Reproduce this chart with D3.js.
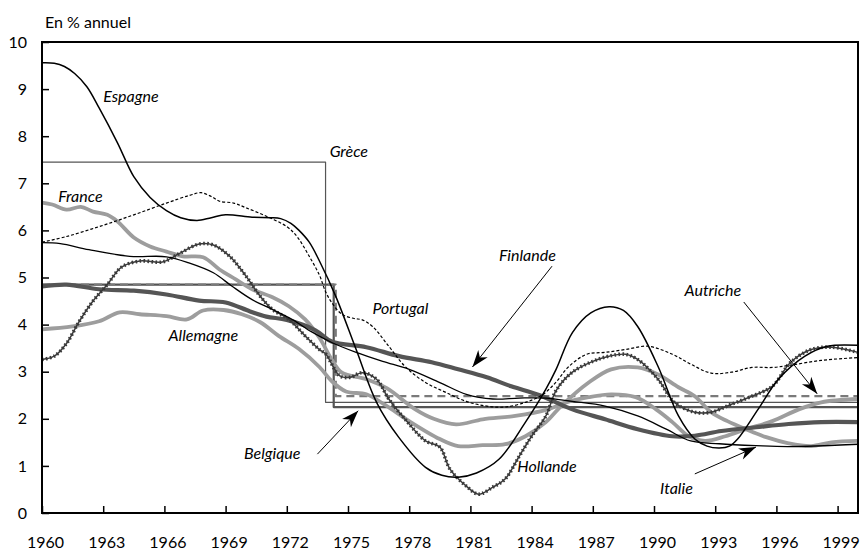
<!DOCTYPE html>
<html>
<head>
<meta charset="utf-8">
<script src="https://cdn.jsdelivr.net/npm/d3@7"></script>
<style>
  body { margin: 0; background: #fff; }
  svg { font-family: Lato, "Open Sans", sans-serif; }
</style>
</head>
<body>
<div id="chart"></div>
<script>
// series: [year, % annuel]
var espagne = [[1960,9.56],[1960.6,9.55],[1961.1,9.48],[1961.6,9.33],[1962.2,9.05],[1962.8,8.6],[1963.7,7.86],[1964.5,7.14],[1965.3,6.7],[1966.1,6.42],[1966.8,6.27],[1967.6,6.21],[1968.3,6.27],[1969,6.33],[1970.3,6.28],[1971.2,6.27],[1971.7,6.25],[1972.2,6.15],[1972.6,6.0],[1973.1,5.75],[1973.6,5.35],[1974.4,4.6],[1975.4,3.47],[1976.4,2.35],[1977.5,1.6],[1978.8,0.97],[1979.6,0.8],[1980.4,0.76],[1981.3,0.85],[1982.4,1.14],[1983.7,1.93],[1984.7,2.63],[1985.2,3.05],[1986,3.83],[1986.9,4.25],[1987.8,4.38],[1988.5,4.3],[1989.2,3.96],[1990.2,3.11],[1991.2,2.06],[1992,1.57],[1992.6,1.42],[1993.2,1.38],[1993.7,1.42],[1994.1,1.57],[1995.1,2.2],[1996.1,2.84],[1997.4,3.33],[1998.5,3.54],[2000,3.56]];
var italie = [[1960,5.74],[1960.9,5.72],[1962.3,5.59],[1964.3,5.45],[1966.1,5.44],[1967.2,5.31],[1968.4,5.1],[1969.3,4.82],[1970.3,4.53],[1971.3,4.32],[1972.3,4.1],[1973.2,3.85],[1974.2,3.62],[1975.4,3.41],[1976.7,3.22],[1978,3.05],[1979.5,2.77],[1980.8,2.52],[1982.1,2.42],[1983.4,2.44],[1984.7,2.44],[1986,2.37],[1987.6,2.27],[1989.2,2.06],[1990.6,1.78],[1991.8,1.53],[1993.2,1.47],[1995,1.43],[1996.6,1.41],[2000,1.46]];
var portugal = [[1960,5.75],[1961.2,5.87],[1962.8,6.08],[1964.5,6.33],[1966.1,6.58],[1967.2,6.74],[1967.8,6.8],[1968.3,6.72],[1968.7,6.62],[1969.4,6.58],[1970,6.48],[1971,6.3],[1972,6.08],[1972.5,5.87],[1973.1,5.45],[1973.6,5.05],[1973.9,4.7],[1974.2,4.47],[1974.7,4.22],[1975.3,4.13],[1975.7,4.1],[1976.2,3.96],[1977,3.54],[1977.8,3.11],[1978.8,2.77],[1979.8,2.56],[1980.8,2.37],[1981.8,2.27],[1982.7,2.25],[1983.7,2.35],[1984.5,2.5],[1985.2,2.78],[1985.8,3.1],[1986.7,3.37],[1987.6,3.41],[1988.6,3.47],[1989.7,3.54],[1990.9,3.37],[1991.8,3.16],[1992.8,2.97],[1993.8,2.99],[1994.8,3.09],[1995.8,3.09],[1996.7,3.14],[1998.2,3.24],[2000,3.3]];
var hollande = [[1960,3.26],[1960.6,3.33],[1961.2,3.6],[1961.8,4.05],[1962.5,4.5],[1963.2,4.85],[1963.9,5.22],[1964.8,5.35],[1965.9,5.33],[1966.7,5.5],[1967.7,5.71],[1968.4,5.69],[1969.2,5.45],[1970,5.03],[1970.7,4.6],[1971.3,4.32],[1972.1,4.11],[1972.9,3.76],[1973.6,3.47],[1973.9,3.38],[1974.6,2.91],[1975.1,2.88],[1975.7,2.98],[1976.4,2.84],[1977,2.42],[1977.8,1.99],[1978.8,1.53],[1979.5,1.4],[1980,0.93],[1980.8,0.57],[1981.4,0.4],[1982.1,0.55],[1982.7,0.72],[1983.4,1.21],[1984,1.63],[1984.7,2.06],[1985.2,2.6],[1986,2.99],[1987,3.22],[1987.8,3.33],[1988.6,3.37],[1989.2,3.26],[1990.2,2.84],[1991,2.35],[1992,2.14],[1992.8,2.14],[1993.8,2.31],[1994.8,2.48],[1995.8,2.69],[1996.7,3.2],[1997.7,3.47],[1998.7,3.52],[2000,3.41]];
var france = [[1960,6.59],[1960.5,6.55],[1961.2,6.44],[1961.9,6.5],[1962.5,6.4],[1963.2,6.33],[1963.7,6.19],[1964.5,5.85],[1965.3,5.66],[1966.1,5.55],[1966.9,5.45],[1967.9,5.43],[1968.7,5.17],[1969.5,4.96],[1970.3,4.75],[1971.3,4.58],[1972.1,4.39],[1972.9,4.11],[1973.6,3.72],[1974.2,3.26],[1974.7,2.98],[1975.9,2.84],[1976.9,2.65],[1978.3,2.2],[1979.2,2.0],[1980.3,1.88],[1981.6,1.99],[1983.2,2.06],[1984.8,2.2],[1985.7,2.35],[1986.8,2.46],[1987.9,2.52],[1989.1,2.46],[1990.1,2.2],[1990.9,1.93],[1991.7,1.63],[1992.5,1.53],[1993.5,1.63],[1994.5,1.78],[1995.8,1.95],[1997.1,2.2],[1998.2,2.35],[2000,2.42]];
var allemagne = [[1960,3.9],[1961.5,3.96],[1962.8,4.07],[1963.8,4.26],[1964.8,4.22],[1966.1,4.18],[1967.1,4.11],[1967.9,4.3],[1968.9,4.31],[1969.8,4.22],[1970.7,4.05],[1971.6,3.76],[1972.6,3.48],[1973.6,3.1],[1974.2,2.8],[1974.9,2.58],[1975.9,2.52],[1976.8,2.3],[1978,1.95],[1979.5,1.57],[1980.4,1.42],[1981.6,1.44],[1982.7,1.46],[1983.7,1.63],[1984.7,1.93],[1985.4,2.25],[1986.8,2.77],[1987.9,3.05],[1989.2,3.09],[1990.2,2.94],[1991.2,2.67],[1992,2.48],[1992.8,2.14],[1993.6,1.95],[1994.5,1.78],[1995.5,1.61],[1996.6,1.48],[1997.7,1.42],[1998.7,1.5],[2000,1.53]];
var finlande = [[1960,4.81],[1961.2,4.85],[1962.8,4.75],[1964.5,4.72],[1966.1,4.64],[1967.7,4.51],[1969,4.47],[1970.2,4.28],[1971,4.17],[1972,4.1],[1973.4,3.88],[1974.2,3.64],[1975.9,3.52],[1977.5,3.33],[1979.1,3.2],[1980.4,3.05],[1981.8,2.88],[1983,2.69],[1984.4,2.5],[1986,2.2],[1987.6,1.99],[1989.2,1.78],[1990.9,1.63],[1992,1.64],[1993.3,1.74],[1995,1.82],[1996.6,1.89],[1998.2,1.93],[2000,1.93]];
var grece = [[1960,7.45],[1973.9,7.45],[1973.9,2.35],[2000,2.35]];
var belgique = [[1960,4.85],[1974.3,4.85],[1974.3,2.25],[2000,2.25]];
var autriche = [[1960,4.85],[1974.4,4.85],[1974.4,2.48],[2000,2.48]];

var xTicks = d3.range(1960, 2000, 3);
var yTicks = d3.range(0, 11, 1);

// labels: [text, year, value]; arrows: [from year, from value, to year, to value]
var labels = [
  ["Espagne", 1963.0, 8.72],
  ["Grèce", 1974.1, 7.56],
  ["France", 1960.8, 6.6],
  ["Portugal", 1976.2, 4.22],
  ["Finlande", 1982.4, 5.35],
  ["Autriche", 1991.5, 4.6],
  ["Allemagne", 1966.2, 3.65],
  ["Belgique", 1969.9, 1.15],
  ["Hollande", 1983.3, 0.87],
  ["Italie", 1990.3, 0.4]
];
var arrows = [
  [1985.0, 5.24, 1981.1, 3.1],
  [1994.4, 4.48, 1998.0, 2.53],
  [1973.5, 1.25, 1975.5, 2.17],
  [1992.0, 0.83, 1995.0, 1.4]
];

var W = 862, H = 551;
var margin = {top: 42, right: 4, bottom: 38, left: 42};

var svg = d3.select('#chart').append('svg')
    .attr('width', W)
    .attr('height', H);

var x = d3.scaleLinear().domain([1960, 2000]).range([margin.left, W - margin.right]);
var y = d3.scaleLinear().domain([0, 10]).range([H - margin.bottom, margin.top]);

svg.append('defs').append('marker')
    .attr('id', 'head')
    .attr('markerUnits', 'userSpaceOnUse')
    .attr('viewBox', '-18 -7 20 14')
    .attr('refX', 0).attr('refY', 0)
    .attr('markerWidth', 20).attr('markerHeight', 14)
    .attr('orient', 'auto')
    .append('path')
    .attr('d', 'M0,0 L-17,-6 L-12,0 L-17,6 Z')
    .attr('fill', '#000');

var line = d3.line()
    .curve(d3.curveCatmullRom.alpha(0.5))
    .x(function(d){ return x(d[0]); })
    .y(function(d){ return y(d[1]); });
var stepLine = d3.line()
    .x(function(d){ return x(d[0]); })
    .y(function(d){ return y(d[1]); });

var plot = svg.append('g');

function draw(data, gen, stroke, width, dash){
    return plot.append('path')
        .datum(data)
        .attr('d', gen)
        .attr('fill', 'none')
        .attr('stroke', stroke)
        .attr('stroke-width', width)
        .attr('stroke-dasharray', dash || null)
        .attr('stroke-linejoin', 'round');
}

// step series
draw(grece, stepLine, '#555', 1.2);
draw(belgique, stepLine, '#555', 2.2);
draw(autriche, stepLine, '#7a7a7a', 2.2, '8,5');

// smooth series
draw(allemagne, line, '#9d9d9d', 3.8);
draw(france, line, '#9d9d9d', 3.8);
draw(finlande, line, '#555', 4.2);
draw(hollande, line, '#3a3a3a', 1.5);
draw(hollande, line, '#3a3a3a', 3.6, '1.6,2.4');
draw(italie, line, '#000', 1.3);
draw(portugal, line, '#000', 1.2, '3,2');
draw(espagne, line, '#000', 1.5);

// axes
var xAxis = svg.append('g')
    .attr('transform', 'translate(0,' + y(0) + ')')
    .call(d3.axisBottom(x).tickValues(xTicks).tickFormat(d3.format('d')).tickSize(-7).tickPadding(24));
var yAxis = svg.append('g')
    .attr('transform', 'translate(' + x(1960) + ',0)')
    .call(d3.axisLeft(y).tickValues(yTicks).tickSize(-7).tickPadding(15));

[xAxis, yAxis].forEach(function(a){
    a.select('.domain').remove();
    a.selectAll('line').attr('stroke', '#000').attr('stroke-width', 1.5);
    a.selectAll('text').attr('font-size', 16).attr('fill', '#000')
        .attr('font-family', 'Lato, "Open Sans", sans-serif');
});
xAxis.selectAll('text').attr('dx', 3);

// frame
svg.append('rect')
    .attr('x', x(1960)).attr('y', y(10))
    .attr('width', x(2000) - x(1960)).attr('height', y(0) - y(10))
    .attr('fill', 'none')
    .attr('stroke', '#000')
    .attr('stroke-width', 2);

svg.append('text')
    .attr('x', 45).attr('y', 28)
    .attr('font-size', 16)
    .text('En % annuel');

// annotations
svg.selectAll('.lab')
    .data(labels)
    .enter().append('text')
    .attr('class', 'lab')
    .attr('x', function(d){ return x(d[1]); })
    .attr('y', function(d){ return y(d[2]); })
    .attr('font-size', 16)
    .attr('font-style', 'italic')
    .text(function(d){ return d[0]; });

svg.selectAll('.arrow')
    .data(arrows)
    .enter().append('line')
    .attr('class', 'arrow')
    .attr('x1', function(d){ return x(d[0]); })
    .attr('y1', function(d){ return y(d[1]); })
    .attr('x2', function(d){ return x(d[2]); })
    .attr('y2', function(d){ return y(d[3]); })
    .attr('stroke', '#000')
    .attr('stroke-width', 1)
    .attr('marker-end', 'url(#head)');
</script>
</body>
</html>
